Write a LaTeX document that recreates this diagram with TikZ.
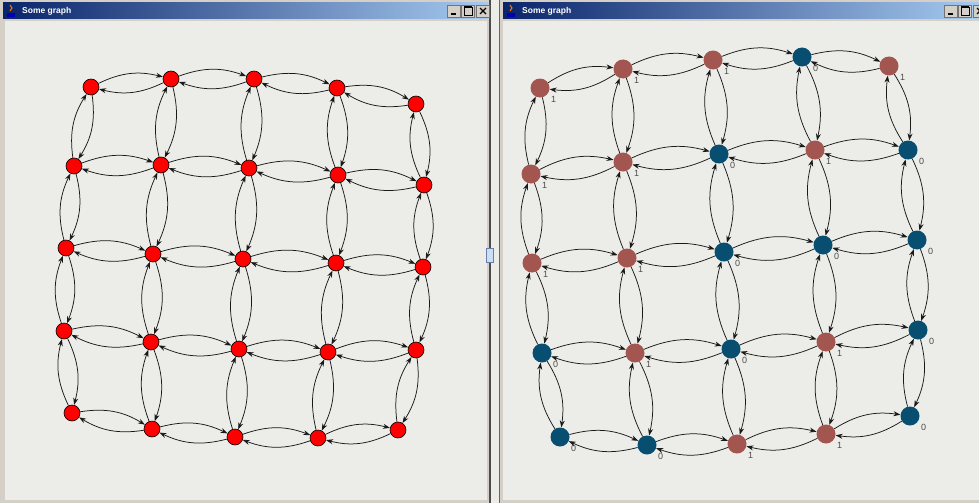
\documentclass[tikz,border=0pt]{standalone}
\usepackage{fontspec}
\setmainfont{Liberation Sans}
\usetikzlibrary{arrows.meta}

\definecolor{canvas}{RGB}{236,236,232}
\definecolor{frame}{RGB}{212,208,200}
\definecolor{titledark}{RGB}{10,36,106}
\definecolor{titlelight}{RGB}{166,202,240}
\definecolor{onecol}{RGB}{163,85,80}
\definecolor{zerocol}{RGB}{8,78,112}

\tikzset{
  lnode/.style={circle,draw=black,line width=0.6pt,fill=red,minimum size=16pt,inner sep=0pt},
  one/.style={circle,fill=onecol,minimum size=19pt,inner sep=0pt},
  zero/.style={circle,fill=zerocol,minimum size=19pt,inner sep=0pt},
  lbl/.style={font=\fontsize{9}{9}\selectfont,text=black!70},
  arc/.style={-{Stealth[length=7pt,width=5pt]},line width=0.75pt,black!90},
  titletext/.style={font=\fontsize{8.5}{9}\selectfont\bfseries,text=white,inner sep=0pt},
  winbtn/.style={draw=black!55,fill=frame,minimum width=13pt,minimum height=12pt,inner sep=0pt},
}

\begin{document}
\begin{tikzpicture}[x=1pt,y=-1pt,>=Latex]
  \useasboundingbox (0,0) rectangle (979,503);
  \fill[canvas] (0,0) rectangle (979,503);

  % window frames
  \fill[frame] (0,0) rectangle (491,503);
  \fill[canvas] (5,21) rectangle (487,500);
  \draw[black!70,line width=1.2pt] (490,0) -- (490,503);
  \fill[frame] (499,0) rectangle (979,503);
  \fill[canvas] (503,21) rectangle (979,500);
  \draw[black!60,line width=1pt] (499,0) -- (499,503);
  \fill[titlelight!60,draw=titledark!60] (486,248) rectangle (493,262);

  % title bars
  \shade[left color=titledark,right color=titlelight] (3,3) rectangle (488,19);
  \shade[left color=titledark,right color=titlelight] (503,3) rectangle (979,19);
  \foreach \w/\tx in {l/3,r/503} {
    \fill[blue!70!black] (\tx+4,13) rectangle (\tx+12,17);
    \draw[orange!90!red,line width=1pt] (\tx+7,5) -- (\tx+9,8) -- (\tx+7,11);
    \node[titletext,anchor=west] (\w title) at (\tx+19,11) {Some graph};
  }

  % window buttons
  \foreach \w/\bx in {l/447,r/944} {
    \node[winbtn] (\w min) at (\bx+7,11) {};
    \node[winbtn] (\w max) at (\bx+21,11) {};
    \node[winbtn] (\w close) at (\bx+36,11) {};
    \draw[line width=1.5pt] ([shift={(-3,3)}]\w min.center) -- ([shift={(2,3)}]\w min.center);
    \draw[line width=0.8pt] ([shift={(-4,-4)}]\w max.center) rectangle ([shift={(4,4)}]\w max.center);
    \draw[line width=1.6pt] ([shift={(-4,-4)}]\w max.center) -- ([shift={(4,-4)}]\w max.center);
    \draw[line width=1.1pt] ([shift={(-3,-3)}]\w close.center) -- ([shift={(3,3)}]\w close.center)
      ([shift={(-3,3)}]\w close.center) -- ([shift={(3,-3)}]\w close.center);
  }

  % left graph
  \foreach \r/\c/\x/\y in {1/1/91/87, 1/2/171/79, 1/3/254/79, 1/4/337/88, 1/5/416/104,
      2/1/74/166, 2/2/161/165, 2/3/249/168, 2/4/338/175, 2/5/424/185,
      3/1/66/248, 3/2/153/254, 3/3/243/259, 3/4/336/263, 3/5/423/267,
      4/1/64/331, 4/2/151/342, 4/3/239/349, 4/4/328/352, 4/5/416/350,
      5/1/72/413, 5/2/152/429, 5/3/235/437, 5/4/318/438, 5/5/398/430}
    \node[lnode] (l\r\c) at (\x,\y) {};

  % right graph
  \foreach \r/\c/\x/\y/\s/\v in {1/1/540/88/one/1, 1/2/623/69/one/1, 1/3/713/60/one/1, 1/4/802/57/zero/0, 1/5/889/66/one/1,
      2/1/531/174/one/1, 2/2/623/162/one/1, 2/3/719/154/zero/0, 2/4/815/150/one/1, 2/5/908/150/zero/0,
      3/1/532/263/one/1, 3/2/627/258/one/1, 3/3/724/252/zero/0, 3/4/823/245/zero/0, 3/5/917/240/zero/0,
      4/1/542/353/zero/0, 4/2/635/353/one/1, 4/3/731/349/zero/0, 4/4/826/342/one/1, 4/5/918/330/zero/0,
      5/1/560/437/zero/0, 5/2/647/445/zero/0, 5/3/737/444/one/1, 5/4/826/434/one/1, 5/5/910/416/zero/0}
    \node[\s,label={[lbl,label distance=-1pt]-30:\v}] (r\r\c) at (\x,\y) {};

  % arcs both ways between neighbours
  \foreach \g in {l,r} {
    \foreach \r in {1,...,5} {
      \foreach \c [count=\d from 2] in {1,...,4} {
        \draw[arc] (\g\r\c) to[bend left=20] (\g\r\d);
        \draw[arc] (\g\r\d) to[bend left=20] (\g\r\c);
        \draw[arc] (\g\c\r) to[bend left=20] (\g\d\r);
        \draw[arc] (\g\d\r) to[bend left=20] (\g\c\r);
      }
    }
  }
\end{tikzpicture}
\end{document}
